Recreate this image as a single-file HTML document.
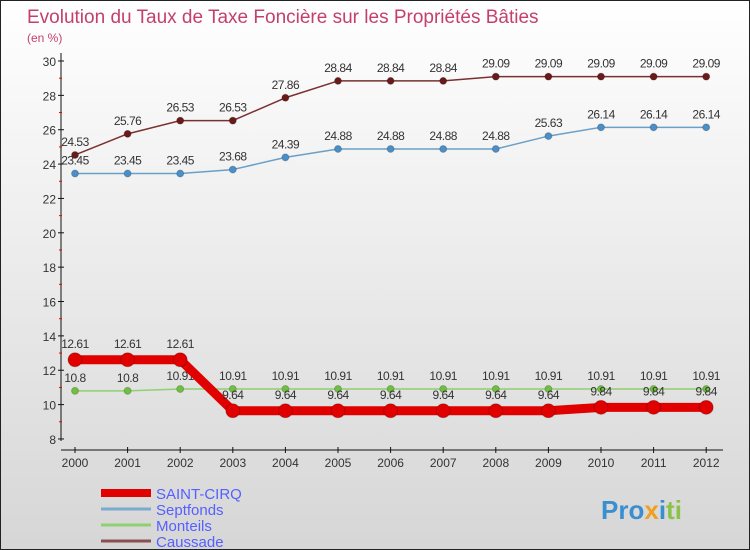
<!DOCTYPE html>
<html><head><meta charset="utf-8"><style>
body{margin:0}
#c{width:750px;height:550px;position:relative;box-sizing:border-box;border:1px solid #222;background:linear-gradient(#fff,#d6d6d6);font-family:"Liberation Sans",sans-serif;overflow:hidden}
</style></head><body>
<div id="c">
<svg id="s" width="748" height="548" style="position:absolute;left:0;top:0">
<text x="26" y="22" font-size="19" fill="#c4406a">Evolution du Taux de Taxe Foncière sur les Propriétés Bâties</text>
<text x="26" y="41" font-size="12" fill="#c4406a">(en %)</text>
<text x="600" y="518" font-size="26" font-weight="bold" fill="#3a8fd0">Pro<tspan fill="#f0a020">x</tspan><tspan fill="#3a8fd0">i</tspan><tspan fill="#8bc34a">ti</tspan></text>
</svg>
</div>
<script>
const years=[2000,2001,2002,2003,2004,2005,2006,2007,2008,2009,2010,2011,2012];
const saintCirq=[12.61,12.61,12.61,9.64,9.64,9.64,9.64,9.64,9.64,9.64,9.84,9.84,9.84];
const septfonds=[23.45,23.45,23.45,23.68,24.39,24.88,24.88,24.88,24.88,25.63,26.14,26.14,26.14];
const monteils=[10.8,10.8,10.91,10.91,10.91,10.91,10.91,10.91,10.91,10.91,10.91,10.91,10.91];
const caussade=[24.53,25.76,26.53,26.53,27.86,28.84,28.84,28.84,29.09,29.09,29.09,29.09,29.09];
const yTicks=[8,10,12,14,16,18,20,22,24,26,28,30];
const names=['SAINT-CIRQ','Septfonds','Monteils','Caussade'];
const NS='http://www.w3.org/2000/svg';
const svg=document.getElementById('s');
const x=i=>74+i*52.6;
const y=v=>60+(30-v)*17.18;
function el(t,a,p){const e=document.createElementNS(NS,t);for(const k in a)e.setAttribute(k,a[k]);(p||svg).appendChild(e);return e;}
// axes
const ax=el('line',{x1:60,y1:52,x2:60,y2:440,stroke:'#111'});


const xa=el('line',{x1:60,y1:449,x2:722,y2:449,stroke:'#111'});


yTicks.forEach(v=>{
 el('line',{x1:57,x2:63,y1:y(v),y2:y(v),stroke:'#111'});
 if(v<30) el('line',{x1:58,x2:61,y1:y(v+1),y2:y(v+1),stroke:'#e00'});
 const t=el('text',{x:55,y:y(v)+5,'text-anchor':'end','font-size':12,fill:'#333'});
 t.textContent=v;
 
 
});
years.forEach((yr,i)=>{
 el('line',{x1:x(i),x2:x(i),y1:446,y2:452,stroke:'#111'});
 const t=el('text',{x:x(i),y:466,'text-anchor':'middle','font-size':12,fill:'#333'});
 t.textContent=yr;
 
 
});
function series(data,color,w,r,dot,name,lblOff){
 const g=el('g',{});
 
 
 el('polyline',{points:data.map((v,i)=>x(i)+','+y(v)).join(' '),fill:'none',stroke:color,'stroke-width':w,'stroke-linejoin':'round'},g);
 data.forEach((v,i)=>{
  const c=el('circle',{cx:x(i),cy:y(v),r:r,fill:dot,stroke:'rgba(0,0,0,0.2)'},g);
  
  
  const t=el('text',{x:x(i),y:y(v)+lblOff,'text-anchor':'middle','font-size':12,fill:'#333','letter-spacing':'-0.5'},g);
  t.textContent=v;
  
  
 });
}
series(caussade,'#7a3030',1.5,3.5,'#6b1a1a','caussade',-9);
series(septfonds,'#6a9fc8',1.5,3.5,'#4a8fc8','septfonds',-9);
series(monteils,'#90d070',1.5,3.5,'#70c040','monteils',-9);
series(saintCirq,'#e00000',9,7,'#e00000','saint-cirq',-12);
const cols=['#e00000','#7aaad0','#90d070','#8a5050'],ws=[8,3,3,3];
names.forEach((n,i)=>{
 const yy=492+i*16;
 const l=el('line',{x1:100,x2:150,y1:yy,y2:yy,stroke:cols[i],'stroke-width':ws[i]});
 
 
 const t=el('text',{x:155,y:yy+6,'font-size':15,fill:'#5560ff'});
 t.textContent=n;
 
 
});
</script>
</body></html>
